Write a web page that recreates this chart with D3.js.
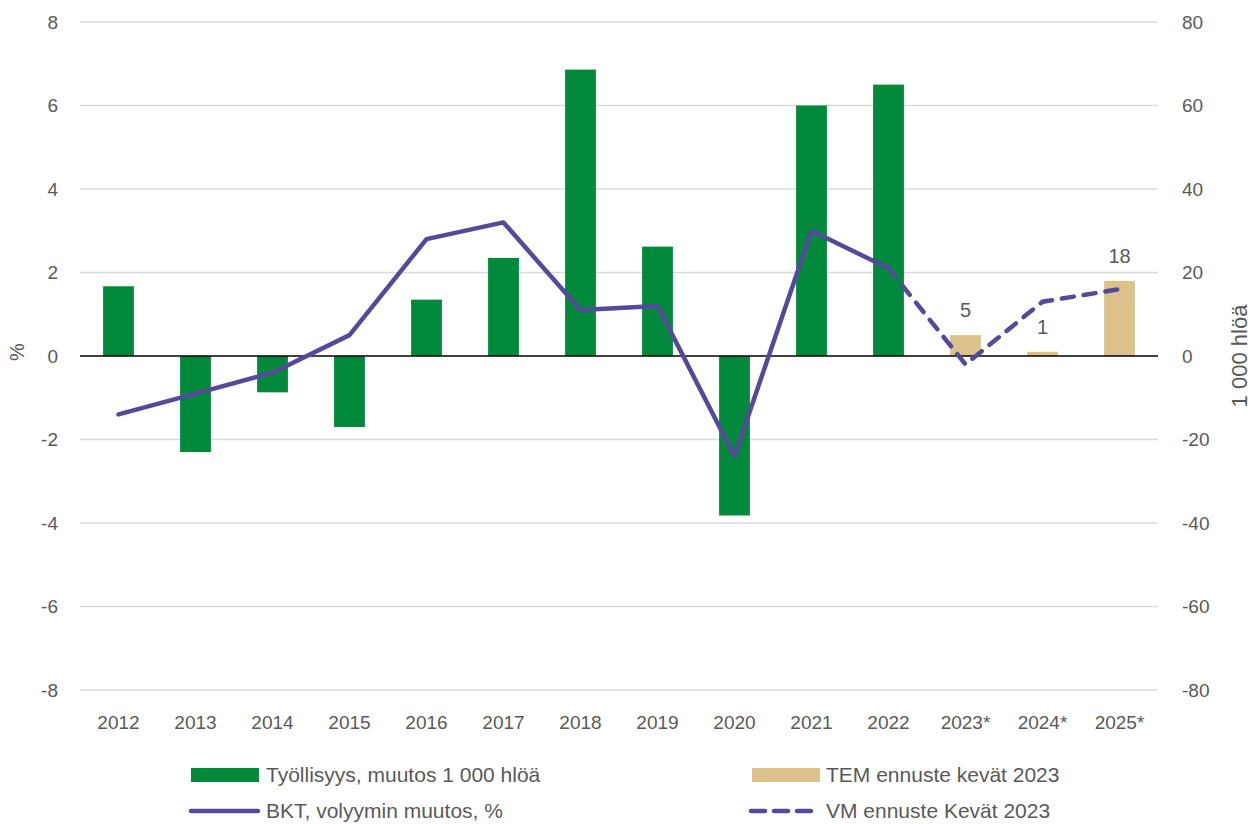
<!DOCTYPE html>
<html lang="fi">
<head>
<meta charset="UTF-8">
<title>Työllisyys ja BKT</title>
<script src="https://d3js.org/d3.v7.min.js"></script>
<style>
  body { margin: 0; background: #fff; }
  text { font-family: "Liberation Sans", Arial, sans-serif; fill: #595959; }
</style>
</head>
<body>
<svg id="chart" width="1256" height="824"></svg>
<script>
// years on the x axis
const years = ["2012", "2013", "2014", "2015", "2016", "2017", "2018", "2019", "2020", "2021", "2022", "2023*", "2024*", "2025*"];

// employment change, 1 000 persons (right axis)
const empYears = ["2012", "2013", "2014", "2015", "2016", "2017", "2018", "2019", "2020", "2021", "2022"];
const employment = [16.7, -23, -8.7, -17, 13.5, 23.5, 68.6, 26.2, -38.2, 60, 65];

// TEM forecast, 1 000 persons (right axis)
const temYears = ["2023*", "2024*", "2025*"];
const temForecast = [5, 1, 18];

// GDP volume change, % (left axis)
const gdpYears = ["2012", "2013", "2014", "2015", "2016", "2017", "2018", "2019", "2020", "2021", "2022"];
const gdp = [-1.4, -0.9, -0.4, 0.5, 2.8, 3.2, 1.1, 1.2, -2.4, 3.0, 2.1];

// VM forecast, % (left axis), starting from last actual
const vmYears = ["2022", "2023*", "2024*", "2025*"];
const vmForecast = [2.1, -0.2, 1.3, 1.6];

const leftTicks = [-8, -6, -4, -2, 0, 2, 4, 6, 8];
const rightTicks = [-80, -60, -40, -20, 0, 20, 40, 60, 80];

const green = "#00893b", tan = "#dcc18b", purple = "#544a99";

const svg = d3.select("#chart");
const plotL = 80, plotR = 1158, plotT = 22, plotB = 690;

const x = d3.scaleBand().domain(years).range([plotL, plotR]).padding(0);
const yL = d3.scaleLinear().domain([-8, 8]).range([plotB, plotT]);
const yR = d3.scaleLinear().domain([-80, 80]).range([plotB, plotT]);
const barW = x.bandwidth() * 0.4;
const cx = d => x(d) + x.bandwidth() / 2;
const plain = d => String(d); // hyphen minus like the original

// gridlines
svg.append("g").selectAll("line")
  .data(leftTicks.filter(d => d !== 0))
  .enter().append("line")
  .attr("x1", plotL).attr("x2", plotR)
  .attr("y1", d => yL(d)).attr("y2", d => yL(d))
  .attr("stroke", "#d9d9d9").attr("stroke-width", 1.5);

// left axis
const axL = svg.append("g").attr("transform", `translate(${plotL - 22},0)`)
  .call(d3.axisLeft(yL).tickValues(leftTicks).tickFormat(plain).tickSize(0).tickPadding(0));
axL.select(".domain").remove();
axL.selectAll("text").style("font-size", "19px").attr("fill", "#595959");

// right axis
const axR = svg.append("g").attr("transform", `translate(${plotR + 24},0)`)
  .call(d3.axisRight(yR).tickValues(rightTicks).tickFormat(plain).tickSize(0).tickPadding(0));
axR.select(".domain").remove();
axR.selectAll("text").style("font-size", "19px").attr("fill", "#595959");

// bottom labels
const axB = svg.append("g").attr("transform", `translate(0,${plotB + 32})`)
  .call(d3.axisBottom(x).tickSize(0).tickPadding(0));
axB.select(".domain").remove();
axB.selectAll("text").style("font-size", "19px").attr("fill", "#595959").attr("dy", "0.35em");

// axis titles
svg.append("text").attr("transform", `translate(24,${yL(0) - 4}) rotate(-90)`)
  .attr("text-anchor", "middle").style("font-size", "20px").text("%");
svg.append("text").attr("transform", `translate(1247,${yL(0)}) rotate(-90)`)
  .attr("text-anchor", "middle").style("font-size", "22px").text("1 000 hlöä");

// employment bars
svg.append("g").selectAll("rect")
  .data(empYears.map((y, i) => ({ y, v: employment[i] })))
  .enter().append("rect")
  .attr("x", d => cx(d.y) - barW / 2).attr("width", barW)
  .attr("y", d => yR(Math.max(0, d.v)))
  .attr("height", d => Math.abs(yR(d.v) - yR(0)))
  .attr("fill", green);

// TEM bars
const tem = temYears.map((y, i) => ({ y, v: temForecast[i] }));
svg.append("g").selectAll("rect")
  .data(tem)
  .enter().append("rect")
  .attr("x", d => cx(d.y) - barW / 2).attr("width", barW)
  .attr("y", d => yR(Math.max(0, d.v)))
  .attr("height", d => Math.abs(yR(d.v) - yR(0)))
  .attr("fill", tan);

// zero line
svg.append("line").attr("x1", plotL).attr("x2", plotR)
  .attr("y1", yL(0)).attr("y2", yL(0))
  .attr("stroke", "#000").attr("stroke-width", 1.6);

// lines
const line = d3.line().x(d => cx(d.y)).y(d => yL(d.v));
svg.append("path")
  .datum(gdpYears.map((y, i) => ({ y, v: gdp[i] })))
  .attr("d", line).attr("fill", "none").attr("stroke", purple)
  .attr("stroke-width", 4.5).attr("stroke-linejoin", "round").attr("stroke-linecap", "round");
svg.append("path")
  .datum(vmYears.map((y, i) => ({ y, v: vmForecast[i] })))
  .attr("d", line).attr("fill", "none").attr("stroke", purple)
  .attr("stroke-width", 4.5).attr("stroke-dasharray", "12 10").attr("stroke-linecap", "round");

// TEM labels
svg.append("g").selectAll("text")
  .data(tem)
  .enter().append("text")
  .attr("x", d => cx(d.y)).attr("y", d => yR(d.v) - 18)
  .attr("text-anchor", "middle").style("font-size", "20px").attr("fill", "#404040")
  .text(d => d.v);

// legend
const lg = svg.append("g");
lg.append("rect").attr("x", 191).attr("y", 768).attr("width", 68).attr("height", 14).attr("fill", green);
lg.append("text").attr("x", 266).attr("y", 775).attr("dy", "0.35em").style("font-size", "21px").text("Työllisyys, muutos 1 000 hlöä");
lg.append("line").attr("x1", 191).attr("x2", 258).attr("y1", 811).attr("y2", 811)
  .attr("stroke", purple).attr("stroke-width", 4.5).attr("stroke-linecap", "round");
lg.append("text").attr("x", 266).attr("y", 811).attr("dy", "0.35em").style("font-size", "21px").text("BKT, volyymin muutos, %");
lg.append("rect").attr("x", 752).attr("y", 768).attr("width", 68).attr("height", 14).attr("fill", tan);
lg.append("text").attr("x", 826).attr("y", 775).attr("dy", "0.35em").style("font-size", "21px").text("TEM ennuste kevät 2023");
lg.append("line").attr("x1", 751).attr("x2", 812).attr("y1", 811).attr("y2", 811)
  .attr("stroke", purple).attr("stroke-width", 4.5).attr("stroke-linecap", "round").attr("stroke-dasharray", "14 9");
lg.append("text").attr("x", 826).attr("y", 811).attr("dy", "0.35em").style("font-size", "21px").text("VM ennuste Kevät 2023");
</script>
</body>
</html>
